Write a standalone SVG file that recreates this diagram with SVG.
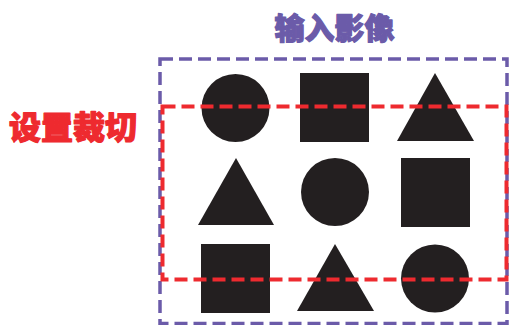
<svg xmlns="http://www.w3.org/2000/svg" width="509" height="325" viewBox="0 0 509 325">
<style>
.s{fill:#231f20}
.t{font-family:"Noto Sans CJK SC",sans-serif;font-weight:900;stroke-width:1.2;stroke-linejoin:round}
</style>
<rect width="509" height="325" fill="#fff"/>
<g id="shapes">
<circle class="s" cx="235.5" cy="108" r="34"/>
<rect class="s" x="300" y="73" width="69" height="69"/>
<polygon class="s" points="435,73 474,141 397,141"/>
<polygon class="s" points="236,158 274,225 198,225"/>
<circle class="s" cx="335" cy="192" r="34"/>
<rect class="s" x="401" y="158" width="69" height="69"/>
<rect class="s" x="201" y="244" width="69" height="69"/>
<polygon class="s" points="335,244 374,311 297,311"/>
<circle class="s" cx="435" cy="278.5" r="34"/>
</g>
<g id="frames">
<rect id="input" x="160" y="59" width="347" height="264.5" fill="none" stroke="#6b5ba9" stroke-width="3.5" stroke-dasharray="13 6"/>
<rect id="crop" x="162.5" y="106.5" width="344" height="173" fill="none" stroke="#ee2a2f" stroke-width="4" stroke-dasharray="13 6"/>
</g>
<text class="t" x="334.5" y="39" font-size="30" fill="#6b5ba9" stroke="#6b5ba9" text-anchor="middle">输入影像</text>
<text class="t" x="73" y="139" font-size="32" fill="#ee2a2f" stroke="#ee2a2f" text-anchor="middle">设置裁切</text>
</svg>
